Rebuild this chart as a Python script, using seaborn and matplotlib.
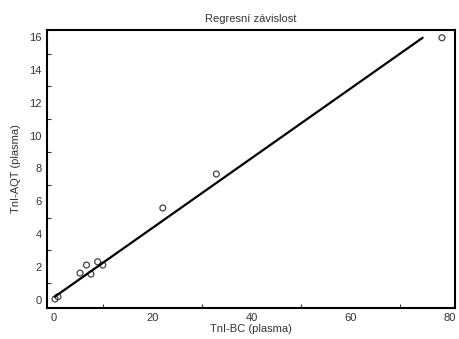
import numpy as np
import pandas as pd
import matplotlib
matplotlib.use("Agg")
import matplotlib.pyplot as plt
import seaborn as sns
from matplotlib.ticker import MultipleLocator

# ---------------- data ----------------
tni_bc = [0.35, 0.95, 5.4, 6.7, 7.6, 8.95, 10.0, 22.1, 32.9, 78.4]
tni_aqt = [0.04, 0.18, 1.62, 2.11, 1.56, 2.31, 2.11, 5.59, 7.66, 15.97]
# regression line end points
fit_x = [0.3, 74.5]
fit_y = [0.18, 15.97]

df = pd.DataFrame({"TnI-BC": tni_bc, "TnI-AQT": tni_aqt})
fit_df = pd.DataFrame({"x": fit_x, "y": fit_y})

sns.set_theme(style="white")
plt.rcParams['font.family'] = ['Liberation Sans', 'DejaVu Sans']

fig = plt.figure(figsize=(4.59, 3.39), dpi=100)
ax = fig.add_axes([0.102, 0.0914, 0.889, 0.82])

sns.lineplot(data=fit_df, x="x", y="y", ax=ax, color="black", linewidth=1.6)
sns.scatterplot(data=df, x="TnI-BC", y="TnI-AQT", ax=ax, marker="o", s=18,
                facecolors="none", edgecolor="#444444", linewidth=0.9)

ax.set_xlim(-1.3, 81)
ax.set_ylim(-0.51, 16.44)
ax.xaxis.set_major_locator(MultipleLocator(20))
ax.xaxis.set_minor_locator(MultipleLocator(10))
ax.yaxis.set_major_locator(MultipleLocator(2))
ax.yaxis.set_minor_locator(MultipleLocator(1))
ax.tick_params(which="major", direction="in", length=6, width=1, colors="#333333",
               labelsize=8, labelcolor="#333333", top=False, right=False)
ax.tick_params(which="minor", direction="in", length=3, width=0.8, colors="#333333",
               bottom=True, left=True, top=False, right=False)
for s in ax.spines.values():
    s.set_linewidth(1.5)
    s.set_color("black")

ax.set_title("Regresní závislost", fontsize=8, color="#333333", pad=6)
ax.set_xlabel("TnI-BC (plasma)", fontsize=8, color="#333333", labelpad=1)
ax.set_ylabel("TnI-AQT (plasma)", fontsize=8, color="#333333", labelpad=6)

fig.savefig("out.png", dpi=100)
